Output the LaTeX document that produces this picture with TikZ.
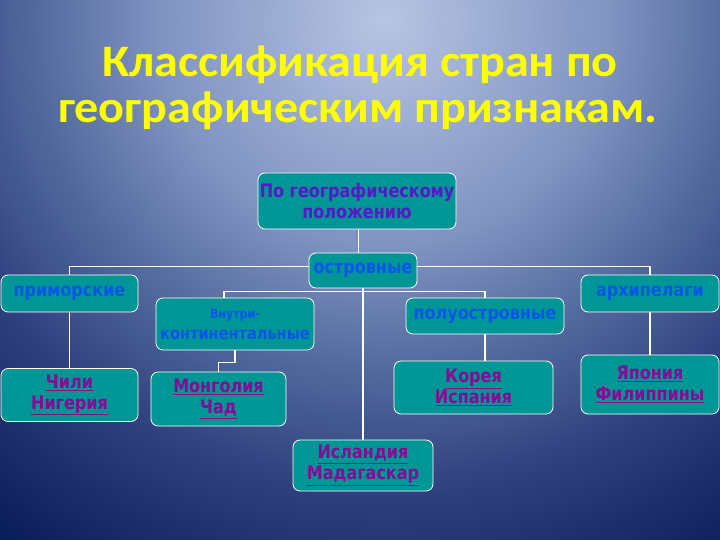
\documentclass[tikz,border=0pt]{standalone}
\usepackage{fontspec}
\setmainfont{DejaVu Sans}
\newfontfamily\titlefont{Carlito}[FakeStretch=1.07]
\newfontfamily\boxfont{DejaVu Sans}[FakeStretch=0.86]
\usetikzlibrary{calc}
\pgfdeclarelayer{back}
\pgfdeclarelayer{links}
\pgfsetlayers{back,links,main}
\definecolor{boxteal}{RGB}{0,150,150}
\definecolor{catblue}{RGB}{10,85,235}
\definecolor{topviolet}{RGB}{85,25,200}
\definecolor{ctrypurple}{RGB}{135,10,150}
\definecolor{dblmid}{RGB}{125,143,190}
\definecolor{titleyellow}{RGB}{255,255,0}
\pgfdeclareradialshading{bgshade}{\pgfpoint{0bp}{0bp}}{rgb(0bp)=(0.72,0.77,0.89); rgb(8.5bp)=(0.50,0.58,0.76); rgb(12.5bp)=(0.35,0.44,0.64); rgb(18bp)=(0.18,0.25,0.49); rgb(25bp)=(0.02,0.10,0.33); rgb(50bp)=(0.02,0.10,0.33)}
\begin{document}
\begin{tikzpicture}[x=1pt,y=-1pt,
  box/.style={draw=white, line width=0.8pt, fill=boxteal, rounded corners=7pt, inner sep=0pt, align=center},
  conn/.style={draw=white, line width=1.5pt},
  cat/.style={text=catblue, font=\boxfont\bfseries\fontsize{18.6}{20}\selectfont},
  ctry/.style={text=ctrypurple, font=\boxfont\bfseries\fontsize{18.6}{21}\selectfont},
  ttl/.style={font=\titlefont\bfseries\fontsize{45}{46}\selectfont, anchor=base, inner sep=0pt},
]
\useasboundingbox (0,0) rectangle (720,540);
\begin{pgfonlayer}{back}
\begin{scope}
\clip (0,0) rectangle (720,540);
\shade[shading=bgshade] (-275,-640) rectangle (1045,680);
\end{scope}
\end{pgfonlayer}

% title
\node[ttl, text=titleyellow] (t1) at (360,77) {Классификация стран по};
\node[ttl, text=titleyellow] (t2) at (358,123) {географическим признакам.};

% boxes
\node[box, minimum width=198pt, minimum height=56pt, text=topviolet,
      font=\boxfont\bfseries\fontsize{18.6}{21}\selectfont] (top) at (357,201) {По географическому\\положению};
\node[box, cat, minimum width=108pt, minimum height=35pt] (ostr) at (363,270.5) {островные};
\node[box, cat, minimum width=137pt, minimum height=37pt] (prim) at (69.5,293.5) {приморские};
\node[box, cat, minimum width=138pt, minimum height=37pt] (arch) at (650,293.5) {архипелаги};
\node[box, cat, minimum width=158pt, minimum height=52pt] (vnut) at (235,324)
  {{\fontsize{12.8}{14}\selectfont Внутри-}\\[1pt]{\fontsize{16.9}{17}\selectfont континентальные}};
\node[box, cat, minimum width=158pt, minimum height=36pt] (polu) at (485,316) {полуостровные};

\node[box, ctry, minimum width=137pt, minimum height=53pt] (chili) at (69.5,395) {\underline{Чили}\\\underline{Нигерия}};
\node[box, ctry, minimum width=135pt, minimum height=54pt] (mong) at (218.5,399) {\underline{Монголия}\\\underline{Чад}};
\node[box, ctry, minimum width=159pt, minimum height=53pt] (korea) at (473.5,387.5) {\underline{Корея}\\\underline{Испания}};
\node[box, ctry, minimum width=138pt, minimum height=59pt] (japan) at (650,384.5) {\underline{Япония}\\\underline{Филиппины}};
\node[box, ctry, minimum width=140pt, minimum height=51pt] (isl) at (363,465.5) {\underline{Исландия}\\\underline{Мадагаскар}};

% connectors
\begin{pgfonlayer}{links}
\draw[white, line width=0.7pt, double=dblmid, double distance=1.6pt] (top.south) -- (top.south |- ostr.north);
\draw[conn] (prim.north) -- ++(0,-8) -| (arch.north);
\draw[conn] ([xshift=-11pt]vnut.north) |- ($(ostr.south)+(0,3)$) -| (polu.north);
\draw[conn] (ostr.south) -- (isl.north);
\draw[conn] (prim.south) -- (chili.north);
\draw[conn] (vnut.south) -- ++(0,12) -| (mong.north);
\draw[conn] (polu.south) -- (polu.south |- korea.north);
\draw[conn] (arch.south) -- (japan.north);
\end{pgfonlayer}
\end{tikzpicture}
\end{document}
